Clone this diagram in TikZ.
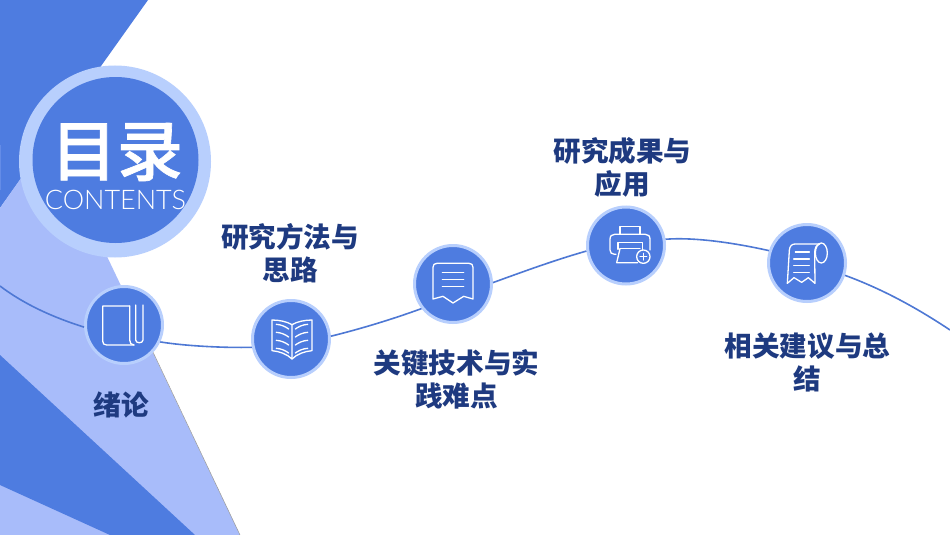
\documentclass[tikz,border=0pt]{standalone}
\usepackage{fontspec}
\newfontfamily\cjk{Noto Sans CJK SC}
\newfontfamily\cjkmed[BoldFont={Noto Sans CJK SC Medium},BoldFeatures={FakeBold=1}]{Noto Sans CJK SC Medium}
\newfontfamily\latinlight{Lato Light}
\definecolor{mainblue}{RGB}{78,124,224}
\definecolor{paleblue}{RGB}{168,188,250}
\definecolor{ringblue}{RGB}{184,207,253}
\definecolor{navy}{RGB}{30,58,128}
\definecolor{lineblue}{RGB}{78,120,212}
\tikzset{
  stepnode/.style={circle,fill=mainblue,draw=ringblue,line width=3pt,minimum size=77pt,inner sep=0pt},
  linkline/.style={draw=lineblue,line width=1.6pt},
  label/.style={text=navy,align=center,inner sep=0pt,font=\cjk\bfseries\fontsize{27.6}{33}\selectfont},
  iconline/.style={draw=white,line width=1.3pt,line join=round,line cap=round},
  cropA/.style={shift={(#1)},scale=1/3},
}
\begin{document}
\begin{tikzpicture}[x=1pt,y=-1pt]
\useasboundingbox (0,0) rectangle (950,535);
\fill[white] (0,0) rectangle (950,535);
% background
\fill[mainblue] (0,0) -- (148,0) -- (0,208) -- cycle;
\fill[paleblue] (0,208) -- (50,137) -- (240,535) -- (0,535) -- cycle;
\draw[gray!80,line width=0.5pt] (152,350) -- (240,535);
\fill[mainblue] (0,355) -- (195,535) -- (110,535) -- (0,485) -- cycle;
\draw[paleblue!25!mainblue,line width=0.6pt] (0.4,145) -- (0.4,190);
% title circle
\node[circle,fill=ringblue,minimum size=192pt,inner sep=0pt] (ring) at (115,161.5) {};
\node[circle,fill=mainblue,minimum size=166pt,inner sep=0pt] (disc) at (115.5,160) {};
\node[text=white,inner sep=0pt,font=\cjkmed\bfseries\fontsize{66}{66}\selectfont] (title) at (117,152) {目录};
\node[text=white,inner sep=0pt,font=\latinlight\fontsize{27}{27}\selectfont] (sub) at (115.5,200) {CONTENTS};
% nodes
\node[stepnode] (n1) at (124,325) {};
\node[stepnode] (n2) at (291,339) {};
\node[stepnode] (n3) at (453,284) {};
\node[stepnode] (n4) at (626,245.5) {};
\node[stepnode] (n5) at (807,263) {};
\coordinate (cstart) at (0,286);
\coordinate (cend) at (950,330);
% connectors
\draw[linkline] (cstart) .. controls (25,305) and (55,318) .. (n1.183);
\draw[linkline] (n1.-25) .. controls (185,346) and (225,348) .. (n2.192);
\draw[linkline] (n2.4) .. controls (360,329) and (390,320) .. (n3.218);
\draw[linkline] (n3.2) .. controls (525,271) and (555,260) .. (n4.188);
\draw[linkline] (n4.9) .. controls (695,237) and (735,243) .. (n5.162);
\draw[linkline] (n5.-18) .. controls (885,290) and (920,310) .. (cend);
% labels
\node[label] (l1) at (121,405) {绪论};
\node[label] (l2) at (290,253.5) {研究方法与\\思路};
\node[label] (l3) at (456.5,379.5) {关键技术与实\\践难点};
\node[label] (l4) at (622.5,167.5) {研究成果与\\应用};
\node[label] (l5) at (807.5,362) {相关建议与总\\结};
% icon 1: book
\begin{scope}[cropA={94,295}]
\draw[iconline] (107,33) -- (33,33) -- (26,33) -- (26,138) .. controls (26,146) and (30,150) .. (38,150) -- (120,150);
\draw[iconline] (107,33) -- (107,135) .. controls (107,144) and (112,150) .. (120,150);
\draw[iconline] (125,30) -- (125,135) .. controls (125,146) and (147,146) .. (147,135) -- (147,30);
\end{scope}
% icon 2: open book
\begin{scope}[cropA={261,309}]
\draw[iconline] (93,47) .. controls (78,38) and (55,33) .. (33,33) -- (33,125) .. controls (55,127) and (78,135) .. (93,150) -- (93,47);
\draw[iconline] (93,47) .. controls (108,38) and (131,33) .. (153,33) -- (153,125) .. controls (131,127) and (108,135) .. (93,150);
\foreach \yy in {0,24,48,72}{
  \draw[iconline] (46,{46+\yy}) .. controls (60,{47+\yy}) and (72,{52+\yy}) .. (83,{60+\yy});
  \draw[iconline] (140,{46+\yy}) .. controls (126,{47+\yy}) and (114,{52+\yy}) .. (103,{60+\yy});
}
\end{scope}
% icon 3: receipt
\begin{scope}[cropA={423,254}]
\draw[iconline] (30,135) -- (30,40) .. controls (30,32) and (34,28) .. (42,28) -- (138,28) .. controls (146,28) and (150,32) .. (150,40) -- (150,135) -- (122,127) -- (90,147) -- (60,127) -- cycle;
\foreach \yy in {55,76,97}{\draw[iconline] (58,\yy) -- (122,\yy);}
\end{scope}
% icon 4: printer
\begin{scope}[cropA={596,216}]
\draw[iconline] (72,54) -- (72,32) -- (132,32) -- (132,54);
\draw[iconline] (60,115) -- (56,115) .. controls (47,115) and (42,110) .. (42,102) -- (42,70) .. controls (42,60) and (47,55) .. (56,55) -- (148,55) .. controls (157,55) and (162,60) .. (162,70) -- (162,102);
\draw[iconline] (66,100) -- (66,80) -- (140,80) -- (140,104);
\draw[iconline] (72,98) -- (62,140) -- (125,140);
\draw[iconline] (72,98) -- (132,98);
\draw[iconline,fill=mainblue] (142,122) circle (20);
\draw[iconline] (142,112) -- (142,132) (132,122) -- (152,122);
\end{scope}
% icon 5: paper roll
\begin{scope}[cropA={777,233}]
\draw[iconline] (31,151) -- (37,52) .. controls (38,40) and (44,33) .. (54,33) -- (128,33);
\draw[iconline] (31,151) -- (51,134) -- (74,148) -- (94,134) -- (114,151) -- (113,60) .. controls (113,45) and (118,36) .. (128,33);
\draw[iconline] (133,60) ellipse (18 and 30);
\draw[iconline] (55,57) -- (97,57) (50,78) -- (97,78) (50,98) -- (97,98) (50,118) -- (97,118);
\end{scope}
\end{tikzpicture}
\end{document}
